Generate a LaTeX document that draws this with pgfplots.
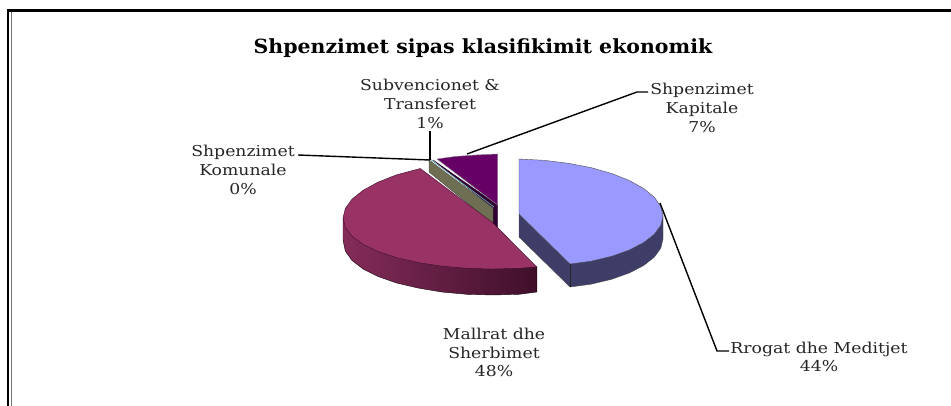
\documentclass[border=0pt]{standalone}
\usepackage{fontspec}
\usepackage{pgfplots}
\pgfplotsset{compat=1.18}
\setmainfont{DejaVu Serif}[FakeStretch=1.15]
\newfontfamily\titlefont{DejaVu Serif}[FakeStretch=1.05,BoldFont={DejaVu Serif Bold}]
\definecolor{blueTop}{HTML}{9999FF}
\definecolor{blueSide}{HTML}{3D3D68}
\definecolor{marTop}{HTML}{993366}
\definecolor{marL}{HTML}{842C59}
\definecolor{marR}{HTML}{3F0F2A}
\definecolor{olive}{HTML}{6E6E52}
\definecolor{purp}{HTML}{660066}
\definecolor{purpD}{HTML}{2E0030}
\definecolor{teal2}{HTML}{66AAAA}
\tikzset{lab/.style={align=center,font=\fontsize{15}{18.8}\selectfont,text=black!85,inner sep=0pt}}
\begin{document}
\begin{tikzpicture}
\begin{axis}[
  width=951pt,height=406pt,scale only axis,
  xmin=0,xmax=951,ymin=0,ymax=406,y dir=reverse,
  hide axis,clip=false]
\path[use as bounding box] (rel axis cs:0,0) rectangle (rel axis cs:1,1);
% frame
\addplot[black,line width=3pt,forget plot] coordinates {(7,11) (951,11)};
\addplot[black,line width=2.4pt,forget plot] coordinates {(8,10) (8,406)};
\addplot[black!55,line width=1.2pt,forget plot] coordinates {(11.5,12) (11.5,406)};
% Shpenzimet Kapitale 7%
\addplot[draw=purpD,fill=purpD,line width=0.4pt,forget plot] coordinates {(433,160) (497.5,205) (497.5,228) (493,223) (493,208) (433,160)};
\addplot[draw=black!50,fill=purp,line width=0.4pt,forget plot] coordinates {(437,159) (455,156.5) (476,155) (497.5,154) (497.5,205) (437,159)};
% Subvencionet 1%, Komunale 0%
\addplot[draw=black!70,fill=olive,line width=0.4pt,forget plot] coordinates {(429,160) (493,208) (493,224) (429,172) (429,160)};
\addplot[teal2,line width=0.7pt,forget plot] coordinates {(430,159) (494,207)};
% Mallrat dhe Sherbimet 48%
\addplot[draw=black!60!marR,left color=marL,right color=marR,line width=0.4pt,forget plot] coordinates {(343,218) (343,240) (345.3,251) (352,260.5) (363.1,269) (378.1,276.5) (396.6,283) (418,288) (441.7,292) (466.9,294.3) (493,295) (519.1,294.3) (536.8,292) (536.8,266.9) (343,218)};
\addplot[draw=marR,fill=marTop,line width=0.4pt,forget plot] coordinates {(420.3,168.5) (396.6,174.8) (378.1,182.1) (363.1,190.3) (352,199.2) (345.3,208.5) (343,218) (345.3,227.3) (352,236.2) (363.1,244.3) (378.1,251.5) (396.6,257.6) (418,262.5) (441.7,266.1) (466.9,268.3) (493,269) (519.1,268.3) (536.8,266.9) (493,223) (420.3,168.5)};
% Rrogat dhe Meditjet 44%
\addplot[draw=black!70,fill=blueSide,line width=0.4pt,forget plot] coordinates {(519,214) (519,237) (570,287) (591,284.2) (611.6,279.3) (629.3,273) (643.7,265.5) (654.3,257.2) (660.8,248.2) (663,239) (663,216) (570,264) (519,214)};
\addplot[draw=black!70,fill=blueTop,line width=0.4pt,forget plot] coordinates {(519,159) (544,160.3) (568.2,163.3) (591,167.6) (611.6,173.5) (629.3,180.5) (643.7,188.5) (654.3,197.2) (660.8,206.4) (663,216) (660.8,225.2) (654.3,234.2) (643.7,242.5) (629.3,250) (611.6,256.3) (591,261.2) (570,264) (519,214) (519,159)};
\addplot[black!85,line width=0.4pt,forget plot] coordinates {(570,264) (570,287)};
% leaders
\addplot[black,line width=1.4pt,forget plot] coordinates {(298,155) (430,160)};
\addplot[black,line width=1.4pt,forget plot] coordinates {(430,131) (430,160)};
\addplot[black,line width=1.4pt,forget plot] coordinates {(467,154) (637,92) (648,92)};
\addplot[black,line width=1.4pt,forget plot] coordinates {(660,203) (717,351) (729,351)};
% text
\node[inner sep=0pt,font=\titlefont\bfseries\fontsize{19.5}{22}\selectfont] at (axis cs:483,48.5) {Shpenzimet sipas klasifikimit ekonomik};
\node[lab] at (axis cs:430,104) {Subvencionet \&\\Transferet\\1\%};
\node[lab] at (axis cs:243,170) {Shpenzimet\\Komunale\\0\%};
\node[lab] at (axis cs:702,108) {Shpenzimet\\Kapitale\\7\%};
\node[lab] at (axis cs:494,352.5) {Mallrat dhe\\Sherbimet\\48\%};
\node[lab] at (axis cs:819,357) {Rrogat dhe Meditjet\\44\%};
\end{axis}
\end{tikzpicture}
\end{document}
